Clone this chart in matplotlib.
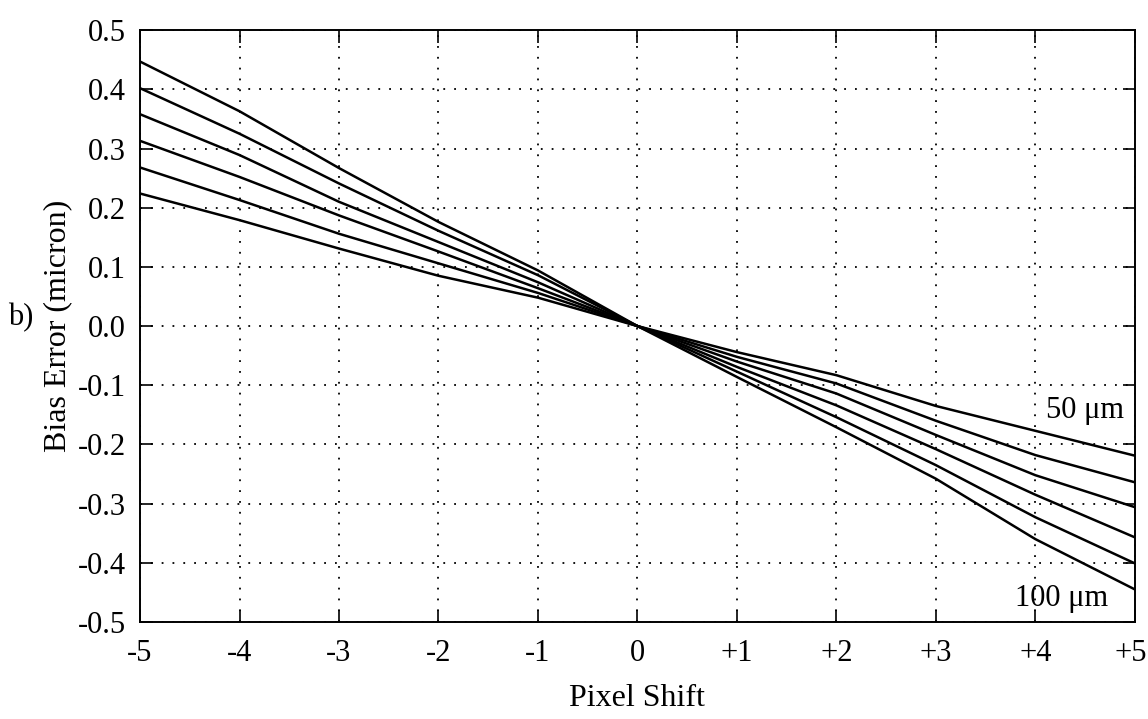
import matplotlib
matplotlib.use("Agg")
import matplotlib.pyplot as plt
from matplotlib.transforms import ScaledTranslation
import numpy as np

# pixel shift positions and bias error curves (micron), 50..100 um in 10 um steps
pixel_shift = [-5, -4, -3, -2, -1, 0, 1, 2, 3, 4, 5]

bias_100 = [0.447, 0.363, 0.267, 0.176, 0.094, 0.0, -0.086, -0.171, -0.258, -0.360, -0.445]
bias_90 = [0.402, 0.325, 0.241, 0.161, 0.086, 0.0, -0.077, -0.154, -0.235, -0.323, -0.401]
bias_80 = [0.358, 0.289, 0.210, 0.142, 0.074, 0.0, -0.069, -0.134, -0.208, -0.285, -0.357]
bias_70 = [0.313, 0.252, 0.187, 0.126, 0.064, 0.0, -0.060, -0.114, -0.184, -0.252, -0.306]
bias_60 = [0.268, 0.213, 0.156, 0.106, 0.056, 0.0, -0.052, -0.097, -0.160, -0.218, -0.264]
bias_50 = [0.224, 0.179, 0.131, 0.085, 0.048, 0.0, -0.044, -0.083, -0.135, -0.177, -0.219]

curves = [bias_100, bias_90, bias_80, bias_70, bias_60, bias_50]

x_ticks = [-5, -4, -3, -2, -1, 0, 1, 2, 3, 4, 5]
x_tick_labels = ['-5', '-4', '-3', '-2', '-1', '0', '+1', '+2', '+3', '+4', '+5']
y_ticks = [0.5, 0.4, 0.3, 0.2, 0.1, 0.0, -0.1, -0.2, -0.3, -0.4, -0.5]

plt.rcParams['font.family'] = ['Liberation Serif', 'DejaVu Serif']

fig = plt.figure(figsize=(11.48, 7.19), dpi=100)
ax = fig.add_axes([0.122, 0.135, 0.8665, 0.823])

for y in curves:
    ax.plot(pixel_shift, y, color='black', linewidth=1.8, solid_joinstyle='round')

ax.set_xlim(-5, 5)
ax.set_ylim(-0.5, 0.5)
ax.set_xticks(x_ticks)
ax.set_xticklabels(x_tick_labels)
ax.set_yticks(y_ticks)
ax.set_yticklabels([f'{v:.1f}' for v in y_ticks])

ax.grid(True, color='black', linestyle=(0, (1, 5)), linewidth=1.3)
ax.tick_params(direction='in', top=True, right=True, length=9, width=1.2,
               labelsize=22)
ax.tick_params(axis='x', pad=12)
ax.tick_params(axis='y', pad=10)
for s in ax.spines.values():
    s.set_linewidth(1.4)

# nudge the "+5" label so it stays inside the figure
last = ax.get_xticklabels()[-1]
last.set_transform(last.get_transform() + ScaledTranslation(-3 / 72, 0, fig.dpi_scale_trans))

ax.set_xlabel('Pixel Shift', fontsize=23, labelpad=12)
ax.set_ylabel('Bias Error (micron)', fontsize=23, labelpad=4)

ax.text(4.50, -0.143, '50 \u03bcm', fontsize=22, ha='center', va='center')
ax.text(4.26, -0.46, '100 \u03bcm', fontsize=22, ha='center', va='center')
fig.text(0.007, 1 - 318 / 719, 'b)', fontsize=22, ha='left', va='center')

fig.savefig('out.png', dpi=100)
